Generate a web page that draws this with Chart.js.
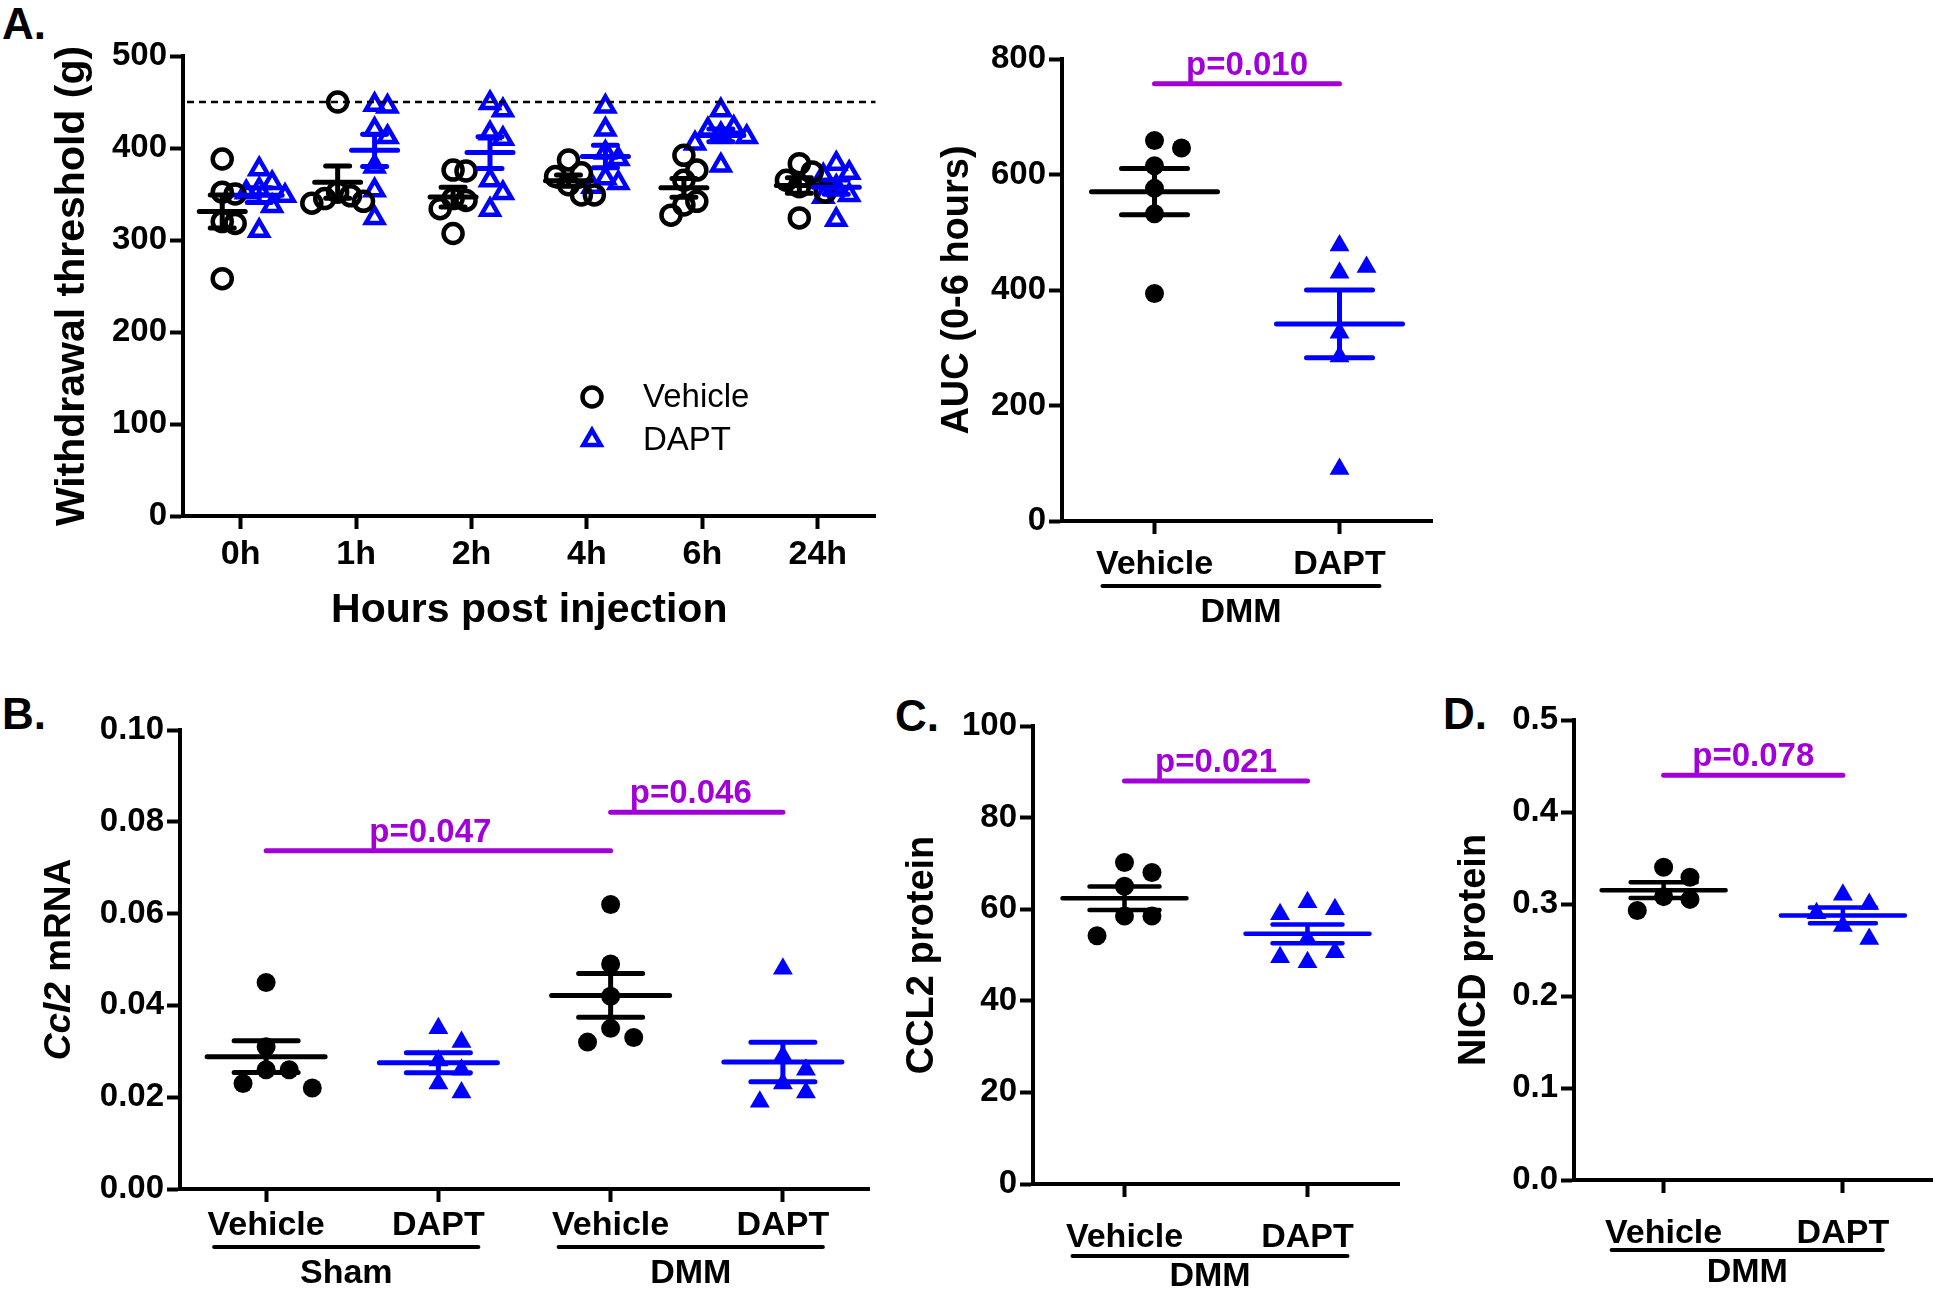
<!DOCTYPE html>
<html>
<head>
<meta charset="utf-8">
<script src="https://cdn.jsdelivr.net/npm/chart.js@4.4.1/dist/chart.umd.min.js"></script>
<style>
  body { margin: 0; background: #fff; width: 1944px; height: 1293px; position: relative; overflow: hidden;
         font-family: 'Liberation Sans', Arial, sans-serif; }
  canvas { position: absolute; }
  .panel { position: absolute; font-weight: bold; font-size: 44px; line-height: 44px; color: #000; }
</style>
</head>
<body>
<div class="panel" style="left:2px;top:2px">A.</div>
<div class="panel" style="left:2px;top:692px">B.</div>
<div class="panel" style="left:895px;top:694px">C.</div>
<div class="panel" style="left:1443px;top:692px">D.</div>

<canvas id="chartA" width="890" height="650" style="left:0;top:0"></canvas>
<canvas id="chartAUC" width="560" height="650" style="left:900px;top:0"></canvas>
<canvas id="chartB" width="890" height="633" style="left:0;top:660px"></canvas>
<canvas id="chartC" width="520" height="633" style="left:900px;top:660px"></canvas>
<canvas id="chartD" width="504" height="633" style="left:1440px;top:660px"></canvas>

<script>
// A. withdrawal threshold (g) per time point, one inner list per time point
var hours = ['0h', '1h', '2h', '4h', '6h', '24h'];
var vehicleThreshold = [
  [388, 352, 350, 320, 318, 258],
  [450, 352, 348, 345, 342, 340],
  [376, 375, 345, 343, 334, 307],
  [387, 373, 369, 360, 349, 349],
  [392, 376, 365, 342, 338, 327],
  [383, 374, 365, 358, 352, 324]
];
var daptThreshold = [
  [377, 362, 355, 352, 348, 337, 310],
  [447, 445, 420, 412, 380, 354, 324],
  [449, 441, 416, 410, 365, 351, 333],
  [445, 420, 395, 388, 367, 362, 358],
  [441, 422, 420, 415, 412, 405, 381],
  [383, 373, 370, 358, 349, 347, 322]
];
var cutoff = 450;
var thresholdTicks = [0, 100, 200, 300, 400, 500];

// A. AUC (0-6 hours)
var treatments = ['Vehicle', 'DAPT'];
var vehicleAUC = [659, 646, 615, 576, 532, 394];
var daptAUC = [477, 440, 430, 326, 285, 90];
var aucTicks = [0, 200, 400, 600, 800];

// B. Ccl2 mRNA
var mrnaGroups = ['Vehicle', 'DAPT', 'Vehicle', 'DAPT'];
var shamVehicleMrna = [0.045, 0.031, 0.026, 0.026, 0.023, 0.022];
var shamDaptMrna = [0.035, 0.032, 0.028, 0.026, 0.023, 0.021];
var dmmVehicleMrna = [0.062, 0.049, 0.042, 0.035, 0.033, 0.032];
var dmmDaptMrna = [0.048, 0.029, 0.026, 0.023, 0.021, 0.019];
var mrnaTicks = [0, 0.02, 0.04, 0.06, 0.08, 0.10];

// C. CCL2 protein
var vehicleCcl2 = [70.2, 68.0, 65.0, 58.5, 58.5, 54.2];
var daptCcl2 = [61.5, 60.0, 58.9, 53.5, 50.6, 49.5, 48.4];
var ccl2Ticks = [0, 20, 40, 60, 80, 100];

// D. NICD protein
var vehicleNicd = [0.340, 0.329, 0.308, 0.305, 0.293];
var daptNicd = [0.310, 0.300, 0.290, 0.276, 0.262];
var nicdTicks = [0, 0.1, 0.2, 0.3, 0.4, 0.5];

var black = '#000000', blue = '#0000ff', purple = '#a100d8';
var font = "'Liberation Sans', Arial, sans-serif";

function mean(a) {
  var s = 0;
  a.forEach(function (v) { s += v; });
  return s / a.length;
}
function sem(a) {
  var m = mean(a), ss = 0;
  a.forEach(function (v) { ss += (v - m) * (v - m); });
  return Math.sqrt(ss / (a.length - 1)) / Math.sqrt(a.length);
}

// spread points that would sit on top of each other, like a scatter dot plot
function swarm(vals, tol, step) {
  var placed = [];
  var cands = [0, step, -step, 2 * step, -2 * step, 3 * step, -3 * step];
  return vals.map(function (v) {
    for (var k = 0; k < cands.length; k++) {
      var c = cands[k];
      var hit = placed.some(function (p) {
        return Math.abs(p.v - v) < tol && Math.abs(p.o - c) < step * 0.5;
      });
      if (!hit) { placed.push({ v: v, o: c }); return c; }
    }
    return 0;
  });
}

function dotSet(label, groups, spread, style) {
  var pts = [];
  groups.forEach(function (g) {
    var offs = swarm(g.vals, spread.tol, spread.step);
    g.vals.forEach(function (v, i) { pts.push({ x: g.x + offs[i], y: v }); });
  });
  return Object.assign({ label: label, data: pts, groups: groups, clip: false, showLine: false }, style);
}

var openCircle = { pointStyle: 'circle', pointRadius: 9.5, pointBorderWidth: 4.5, pointBorderColor: black,
  pointBackgroundColor: 'rgba(0,0,0,0)', lineColor: black };
var openTriangle = { pointStyle: 'triangle', pointRadius: 10, pointBorderWidth: 4.5, pointBorderColor: blue,
  pointBackgroundColor: 'rgba(0,0,0,0)', lineColor: blue };
var dot = { pointStyle: 'circle', pointRadius: 9.5, pointBorderWidth: 0, pointBackgroundColor: black, lineColor: black };
var tri = { pointStyle: 'triangle', pointRadius: 11.5, pointBorderWidth: 0, pointBackgroundColor: blue, lineColor: blue };

// mean and SEM lines for each group
var meanSemPlugin = {
  id: 'meanSem',
  afterDatasetsDraw: function (chart, args, o) {
    var ctx = chart.ctx, xs = chart.scales.x, ys = chart.scales.y;
    chart.data.datasets.forEach(function (ds) {
      (ds.groups || []).forEach(function (g) {
        var m = mean(g.vals), s = sem(g.vals);
        var cx = xs.getPixelForValue(g.x);
        var ym = ys.getPixelForValue(m), yt = ys.getPixelForValue(m + s), yb = ys.getPixelForValue(m - s);
        ctx.save();
        ctx.strokeStyle = ds.lineColor;
        ctx.lineWidth = o.width;
        ctx.lineCap = 'round';
        ctx.beginPath();
        ctx.moveTo(cx - o.half, ym); ctx.lineTo(cx + o.half, ym);
        ctx.moveTo(cx - o.cap, yt); ctx.lineTo(cx + o.cap, yt);
        ctx.moveTo(cx - o.cap, yb); ctx.lineTo(cx + o.cap, yb);
        ctx.moveTo(cx, yt); ctx.lineTo(cx, yb);
        ctx.stroke();
        ctx.restore();
      });
    });
  }
};

// p-value bars, group brackets under the axis, cutoff line, legend, rich axis title
var marksPlugin = {
  id: 'marks',
  afterDraw: function (chart, args, o) {
    var ctx = chart.ctx, xs = chart.scales.x, ys = chart.scales.y, area = chart.chartArea;
    ctx.save();
    (o.pbars || []).forEach(function (p) {
      var x1 = xs.getPixelForValue(p.from), x2 = xs.getPixelForValue(p.to), y = ys.getPixelForValue(p.y);
      ctx.strokeStyle = purple; ctx.lineWidth = 5; ctx.lineCap = 'round';
      ctx.beginPath(); ctx.moveTo(x1, y); ctx.lineTo(x2, y); ctx.stroke();
      ctx.fillStyle = purple; ctx.font = 'bold 33px ' + font;
      ctx.textAlign = 'center'; ctx.textBaseline = 'alphabetic';
      ctx.fillText(p.text, (x1 + x2) / 2 + (p.dx || 0), y - 9);
    });
    (o.brackets || []).forEach(function (b) {
      var x1 = xs.getPixelForValue(b.from) - 52, x2 = xs.getPixelForValue(b.to) + 40;
      var y = area.bottom + o.bracketY;
      ctx.strokeStyle = black; ctx.lineWidth = 4; ctx.lineCap = 'round';
      ctx.beginPath(); ctx.moveTo(x1, y); ctx.lineTo(x2, y); ctx.stroke();
      ctx.fillStyle = black; ctx.font = 'bold 34px ' + font;
      ctx.textAlign = 'center'; ctx.textBaseline = 'middle';
      ctx.fillText(b.text, (x1 + x2) / 2, area.bottom + o.bracketText);
    });
    if (o.cutoff != null) {
      var yc = ys.getPixelForValue(o.cutoff);
      ctx.strokeStyle = black; ctx.lineWidth = 2.5; ctx.setLineDash([7, 5]);
      ctx.beginPath(); ctx.moveTo(area.left + 4, yc); ctx.lineTo(area.right, yc); ctx.stroke();
      ctx.setLineDash([]);
    }
    if (o.legend) {
      chart.data.datasets.forEach(function (ds, i) {
        var x = o.legend.x, y = o.legend.y + i * o.legend.gap;
        ctx.strokeStyle = ds.pointBorderColor; ctx.fillStyle = ds.pointBackgroundColor;
        ctx.lineWidth = ds.pointBorderWidth;
        Chart.helpers.drawPoint(ctx, { pointStyle: ds.pointStyle, radius: ds.pointRadius,
          borderWidth: ds.pointBorderWidth, rotation: 0 }, x, y);
        ctx.fillStyle = black; ctx.font = '33px ' + font;
        ctx.textAlign = 'left'; ctx.textBaseline = 'middle';
        ctx.fillText(ds.label, o.legend.textX, y + 1);
      });
    }
    if (o.richTitle) {
      var parts = o.richTitle.parts, total = 0;
      parts.forEach(function (p) { ctx.font = p.font; p.w = ctx.measureText(p.text).width; total += p.w; });
      ctx.translate(o.richTitle.x, (area.top + area.bottom) / 2);
      ctx.rotate(-Math.PI / 2);
      ctx.fillStyle = black; ctx.textAlign = 'left'; ctx.textBaseline = 'middle';
      var cx = -total / 2;
      parts.forEach(function (p) { ctx.font = p.font; ctx.fillText(p.text, cx, 0); cx += p.w; });
    }
    ctx.restore();
  }
};

Chart.register(meanSemPlugin, marksPlugin);

function axisOptions(o) {
  var tickFont = { family: font, size: 33, weight: 'bold' };
  var grid = { drawOnChartArea: false, drawTicks: true, tickLength: 13, tickWidth: 4, tickColor: black };
  var border = { display: true, width: 4, color: black };
  return {
    responsive: false, animation: false, devicePixelRatio: 1, events: [],
    layout: { padding: { left: 0, top: o.top, right: o.right, bottom: 0 } },
    plugins: { legend: { display: false }, tooltip: { enabled: false }, marks: o.marks, meanSem: o.meanSem },
    scales: {
      x: {
        type: 'linear', min: -0.5, max: o.labels.length - 0.5,
        afterBuildTicks: function (s) { s.ticks = o.labels.map(function (_, i) { return { value: i }; }); },
        afterFit: function (s) { s.height = o.xHeight; },
        ticks: { callback: function (v) { return o.labels[v]; }, color: black, autoSkip: false, maxRotation: 0,
          font: { family: font, size: 34, weight: 'bold' }, padding: o.xPad },
        grid: grid, border: border,
        title: o.xTitle || { display: false }
      },
      y: {
        type: 'linear', min: o.yTicks[0], max: o.yTicks[o.yTicks.length - 1],
        afterBuildTicks: function (s) { s.ticks = o.yTicks.map(function (v) { return { value: v }; }); },
        afterFit: function (s) { s.width = o.yWidth; },
        ticks: { callback: o.yFmt, color: black, font: tickFont, padding: 3 },
        grid: grid, border: border,
        title: o.yTitle || { display: false }
      }
    }
  };
}

// A. time course
new Chart(document.getElementById('chartA'), {
  type: 'scatter',
  data: {
    datasets: [
      dotSet('Vehicle', vehicleThreshold.map(function (v, i) { return { x: i - 0.16, vals: v }; }),
        { tol: 24, step: 0.112 }, openCircle),
      dotSet('DAPT', daptThreshold.map(function (v, i) { return { x: i + 0.16, vals: v }; }),
        { tol: 22, step: 0.112 }, openTriangle)
    ]
  },
  options: axisOptions({
    top: 56, right: 13, yWidth: 183, xHeight: 134, xPad: 5,
    labels: hours, yTicks: thresholdTicks, yFmt: function (v) { return String(v); },
    yTitle: { display: true, text: 'Withdrawal threshold (g)', color: black,
      font: { family: font, size: 41, weight: 'bold' }, padding: { top: 48 } },
    xTitle: { display: true, text: 'Hours post injection', color: black,
      font: { family: font, size: 41, weight: 'bold' }, padding: { bottom: 15 } },
    meanSem: { half: 23, cap: 12, width: 5 },
    marks: { cutoff: cutoff, legend: { x: 592, y: 397, gap: 43, textX: 643 } }
  })
});

// A. AUC
new Chart(document.getElementById('chartAUC'), {
  type: 'scatter',
  data: {
    datasets: [
      dotSet('Vehicle', [{ x: 0, vals: vehicleAUC }], { tol: 38, step: 0.146 }, dot),
      dotSet('DAPT', [{ x: 1, vals: daptAUC }], { tol: 38, step: 0.146 }, tri)
    ]
  },
  options: axisOptions({
    top: 59, right: 28, yWidth: 162, xHeight: 129, xPad: 10,
    labels: treatments, yTicks: aucTicks, yFmt: function (v) { return String(v); },
    yTitle: { display: true, text: 'AUC (0-6 hours)', color: black,
      font: { family: font, size: 38, weight: 'bold' }, padding: { top: 35 } },
    meanSem: { half: 63, cap: 33, width: 5 },
    marks: { pbars: [{ from: 0, to: 1, y: 757, text: 'p=0.010' }],
      brackets: [{ from: 0, to: 1, text: 'DMM' }], bracketY: 65, bracketText: 92 }
  })
});

// B. Ccl2 mRNA
new Chart(document.getElementById('chartB'), {
  type: 'scatter',
  data: {
    datasets: [
      dotSet('Vehicle', [{ x: 0, vals: shamVehicleMrna }, { x: 2, vals: dmmVehicleMrna }],
        { tol: 0.0048, step: 0.134 }, dot),
      dotSet('DAPT', [{ x: 1, vals: shamDaptMrna }, { x: 3, vals: dmmDaptMrna }],
        { tol: 0.0048, step: 0.134 }, tri)
    ]
  },
  options: axisOptions({
    top: 70, right: 21, yWidth: 180, xHeight: 104, xPad: 3,
    labels: mrnaGroups, yTicks: mrnaTicks, yFmt: function (v) { return v.toFixed(2); },
    meanSem: { half: 59, cap: 32, width: 5 },
    marks: {
      pbars: [{ from: 0, to: 2, y: 0.0737, text: 'p=0.047', dx: -8 }, { from: 2, to: 3, y: 0.0821, text: 'p=0.046', dx: -6 }],
      brackets: [{ from: 0, to: 1, text: 'Sham' }, { from: 2, to: 3, text: 'DMM' }], bracketY: 58, bracketText: 85,
      richTitle: { x: 60, parts: [{ text: 'Ccl2', font: 'italic bold 37px ' + font },
        { text: ' mRNA', font: 'bold 37px ' + font }] }
    }
  })
});

// C. CCL2 protein
new Chart(document.getElementById('chartC'), {
  type: 'scatter',
  data: {
    datasets: [
      dotSet('Vehicle', [{ x: 0, vals: vehicleCcl2 }], { tol: 4.6, step: 0.15 }, dot),
      dotSet('DAPT', [{ x: 1, vals: daptCcl2 }], { tol: 4.6, step: 0.15 }, tri)
    ]
  },
  options: axisOptions({
    top: 66, right: 21, yWidth: 133, xHeight: 109, xPad: 20,
    labels: treatments, yTicks: ccl2Ticks, yFmt: function (v) { return String(v); },
    yTitle: { display: true, text: 'CCL2 protein', color: black,
      font: { family: font, size: 38, weight: 'bold' }, padding: { top: 0 } },
    meanSem: { half: 62, cap: 35, width: 4.5 },
    marks: { pbars: [{ from: 0, to: 1, y: 88, text: 'p=0.021' }],
      brackets: [{ from: 0, to: 1, text: 'DMM' }], bracketY: 72, bracketText: 93 }
  })
});

// D. NICD protein
new Chart(document.getElementById('chartD'), {
  type: 'scatter',
  data: {
    datasets: [
      dotSet('Vehicle', [{ x: 0, vals: vehicleNicd }], { tol: 0.023, step: 0.147 }, dot),
      dotSet('DAPT', [{ x: 1, vals: daptNicd }], { tol: 0.023, step: 0.147 }, tri)
    ]
  },
  options: axisOptions({
    top: 60, right: 2, yWidth: 134, xHeight: 113, xPad: 20,
    labels: treatments, yTicks: nicdTicks, yFmt: function (v) { return v.toFixed(1); },
    yTitle: { display: true, text: 'NICD protein', color: black,
      font: { family: font, size: 38, weight: 'bold' }, padding: { top: 12 } },
    meanSem: { half: 62, cap: 33, width: 4.5 },
    marks: { pbars: [{ from: 0, to: 1, y: 0.44, text: 'p=0.078' }],
      brackets: [{ from: 0, to: 1, text: 'DMM' }], bracketY: 70, bracketText: 93 }
  })
});
</script>
</body>
</html>
